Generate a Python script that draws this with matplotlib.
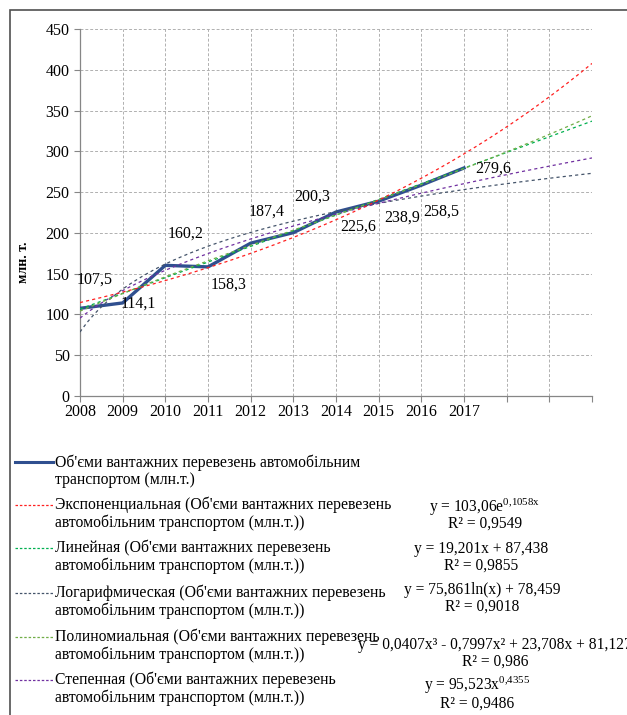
import numpy as np
import matplotlib
matplotlib.use("Agg")
import matplotlib.pyplot as plt
from matplotlib.lines import Line2D
from matplotlib.patches import Rectangle

plt.rcParams['font.family'] = ['Liberation Serif', 'DejaVu Serif']
plt.rcParams['mathtext.fontset'] = 'custom'
plt.rcParams['mathtext.rm'] = 'Liberation Serif'
plt.rcParams['mathtext.it'] = 'Liberation Serif'

# data
years = ['2008', '2009', '2010', '2011', '2012', '2013', '2014', '2015', '2016', '2017']
volumes = [107.5, 114.1, 160.2, 158.3, 187.4, 200.3, 225.6, 238.9, 258.5, 279.6]
value_labels = ['107,5', '114,1', '160,2', '158,3', '187,4', '200,3', '225,6', '238,9', '258,5', '279,6']
forecast_periods = 3

# trendline coefficients as shown on the chart
exp_coef = [103.06, 0.1058]
lin_coef = [19.201, 87.438]
log_coef = [75.861, 78.459]
poly_coef = [0.0407, -0.7997, 23.708, 81.127]
pow_coef = [95.523, 0.4355]

x = np.arange(1, len(years) + 1)
xt = np.linspace(1, len(years) + forecast_periods, 200)

trends = {
    'exp': exp_coef[0] * np.exp(exp_coef[1] * xt),
    'lin': lin_coef[0] * xt + lin_coef[1],
    'log': log_coef[0] * np.log(xt) + log_coef[1],
    'poly': np.polyval(poly_coef, xt),
    'pow': pow_coef[0] * xt ** pow_coef[1],
}
trend_colors = {'exp': '#ff2020', 'lin': '#00b050', 'log': '#44546a',
                'poly': '#70ad47', 'pow': '#7030a0'}

fig = plt.figure(figsize=(6.27, 7.15), dpi=100)
ax = fig.add_axes([80 / 627, 1 - 396 / 715, 512 / 627, 367 / 715])

main_color = '#2f4f8f'
ax.plot(x, volumes, color=main_color, lw=2.4, zorder=3)
for key in ['log', 'pow', 'lin', 'poly', 'exp']:
    ax.plot(xt, trends[key], color=trend_colors[key], lw=0.9,
            dashes=(2.5, 2.5), zorder=4)

# data labels (offsets in pixels from the point)
offsets = [(15, 29), (16, -1), (20, 32), (21, -18), (16, 32), (19, 36),
           (22, -15), (24, -16), (20, -26), (29, -1)]
for xi, v, lab, off in zip(x, volumes, value_labels, offsets):
    ax.annotate(lab, (xi, v), xytext=off, textcoords='offset pixels',
                ha='center', va='center', fontsize=11.5, zorder=5)

ax.set_xlim(1, len(years) + forecast_periods)
ax.set_ylim(0, 450)
ax.set_yticks(np.arange(0, 451, 50))
ax.set_xticks(np.arange(1, len(years) + forecast_periods + 1))
ax.set_xticklabels(years + [''] * forecast_periods)
ax.tick_params(axis='both', labelsize=11.5, direction='out', length=4,
               color='#868686', width=0.8)
ax.tick_params(axis='x', pad=2)
ax.grid(True, color='#b0b0b0', ls=(0, (3, 2)), lw=0.7)
ax.set_axisbelow(True)
for s in ['top', 'right']:
    ax.spines[s].set_visible(False)
for s in ['left', 'bottom']:
    ax.spines[s].set_color('#868686')
    ax.spines[s].set_linewidth(0.9)
ax.set_ylabel('млн. т.', fontsize=10, fontweight='bold')
ax.yaxis.set_label_coords(-0.098, 0.365)

# chart frame
fig.patches.append(Rectangle((10 / 627, -0.1), 1.2, 1 - 10 / 715 + 0.1,
                             transform=fig.transFigure, fill=False,
                             edgecolor='#505050', lw=1.2))

# legend
def fy(py):
    return 1 - py / 715

legend_names = [
    "Об'єми вантажних перевезень автомобільним\nтранспортом (млн.т.)",
    "Экспоненциальная (Об'єми вантажних перевезень\nавтомобільним транспортом (млн.т.))",
    "Линейная (Об'єми вантажних перевезень\nавтомобільним транспортом (млн.т.))",
    "Логарифмическая (Об'єми вантажних перевезень\nавтомобільним транспортом (млн.т.))",
    "Полиномиальная (Об'єми вантажних перевезень\nавтомобільним транспортом (млн.т.))",
    "Степенная (Об'єми вантажних перевезень\nавтомобільним транспортом (млн.т.))",
]
legend_keys = [None, 'exp', 'lin', 'log', 'poly', 'pow']
legend_y = [471, 514, 557, 602, 646, 689]
for name, key, py in zip(legend_names, legend_keys, legend_y):
    ly = fy(py - 9)
    if key is None:
        fig.add_artist(Line2D([15 / 627, 53 / 627], [ly, ly], color=main_color, lw=2.2))
    else:
        fig.add_artist(Line2D([15 / 627, 53 / 627], [ly, ly], color=trend_colors[key],
                              lw=0.9, dashes=(2, 1.5)))
    fig.text(55 / 627, fy(py), name, fontsize=11.3, va='center', ha='left',
             linespacing=1.12)

equations = [
    (r"y = 103,06e$^{\mathrm{0{,}1058x}}$", "R² = 0,9549", 485, 507, 17),
    ("y = 19,201x + 87,438", "R² = 0,9855", 481, 549, 17),
    ("y = 75,861ln(x) + 78,459", "R² = 0,9018", 482, 590, 17),
    ("y = 0,0407x³ - 0,7997x² + 23,708x + 81,127", "R² = 0,986", 495, 645, 17),
    (r"y = 95,523x$^{\mathrm{0{,}4355}}$", "R² = 0,9486", 477, 685, 19),
]
for eq, r2, cx, cy, gap in equations:
    fig.text(cx / 627, fy(cy), eq, fontsize=11.2, ha='center', va='center')
    fig.text(cx / 627, fy(cy + gap), r2, fontsize=11.2, ha='center', va='center')

fig.savefig('out.png', dpi=100)
